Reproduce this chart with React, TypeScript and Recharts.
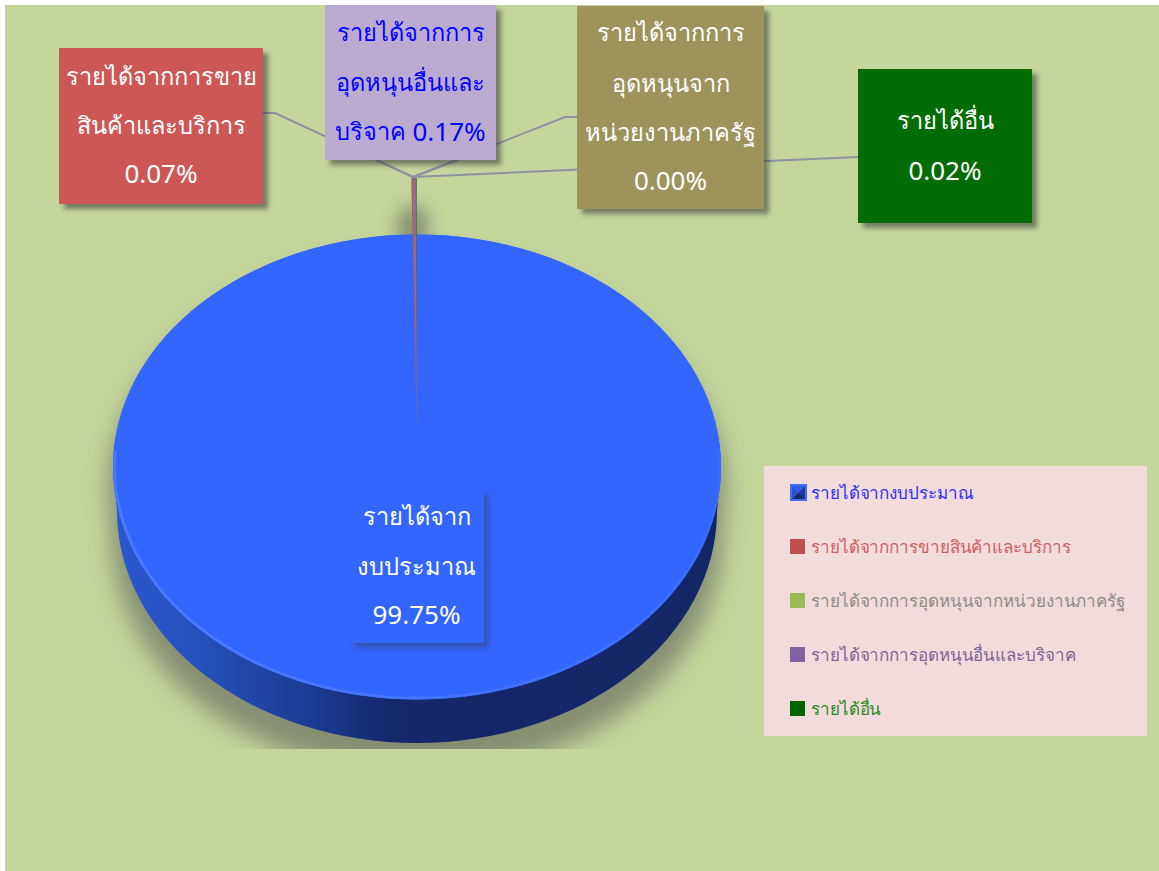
import React from "react";
import { PieChart, Pie, Legend } from "recharts";

// ---- data ----
const categories = [
  "รายได้จากงบประมาณ",
  "รายได้จากการขายสินค้าและบริการ",
  "รายได้จากการอุดหนุนจากหน่วยงานภาครัฐ",
  "รายได้จากการอุดหนุนอื่นและบริจาค",
  "รายได้อื่น",
];
const percentValues = [99.75, 0.07, 0.0, 0.17, 0.02];
const sliceColors = ["#3366FF", "#C0504D", "#9BBB59", "#8064A2", "#006400"];
const legendTextColors = ["#3030F0", "#D0605E", "#8C8C8C", "#7E6496", "#2A8A2A"];
const labelTextLines = [
  ["รายได้จาก", "งบประมาณ"],
  ["รายได้จากการขาย", "สินค้าและบริการ"],
  ["รายได้จากการ", "อุดหนุนจาก", "หน่วยงานภาครัฐ"],
  ["รายได้จากการ", "อุดหนุนอื่นและ", "บริจาค"],
  ["รายได้อื่น"],
];

// ---- layout and style (not data) ----
const W = 1159;
const H = 871;
const FONT = "'Noto Sans', 'DejaVu Sans', sans-serif";
const PIE_CX = 417;
const PIE_CY = 467;
const PIE_RX = 304;
const TILT = 232.5 / 304;
const WALL = 44;
const WALL_RX = 300;
const WALL_RY = 232;
const CLIP_BOTTOM = 749;
const SLIVER_LIFT = 22;
const SLIVER_RY = 267;
const SLIVER_WIDEN = 1.15;
const THAI_SIZE = 23.6;
const NUMBER_SIZE = 26;

const labelBoxes = [
  { x: 349, y: 490, w: 135, h: 153, fill: "#3366FF", text: "#FFFFFF", ys: [516, 566, 614], shadow: 0.35 },
  { x: 59, y: 48, w: 204, h: 156, fill: "#CD5755", text: "#FFFFFF", ys: [76, 125, 173], shadow: 0.55 },
  { x: 577, y: 6, w: 187, h: 203, fill: "#9C945C", text: "#FFFFFF", ys: [32, 83, 132, 180], shadow: 0.55 },
  { x: 325, y: 5, w: 171, h: 155, fill: "#BCABD1", text: "#0000FF", ys: [32, 82, 131], shadow: 0.55 },
  { x: 858, y: 69, w: 174, h: 154, fill: "#046C04", text: "#FFFFFF", ys: [120, 170], shadow: 0.55 },
];
const APEX = "413,177";
const leaderPaths = [
  null,
  `263,113 275,113 ${APEX}`,
  `577,117 565,117 ${APEX}`,
  `376,160 ${APEX} 458,160`,
  `858,157 ${APEX}`,
];

const pt = (cx: number, cy: number, rx: number, ry: number, deg: number) => {
  const a = (deg * Math.PI) / 180;
  return [cx + rx * Math.cos(a), cy - ry * Math.sin(a)];
};

const ellipticalSector = (cx: number, cy: number, rx: number, ry: number, start: number, end: number) => {
  const [x0, y0] = pt(cx, cy, rx, ry, start);
  const [x1, y1] = pt(cx, cy, rx, ry, end);
  const large = Math.abs(start - end) > 180 ? 1 : 0;
  return `M${cx},${cy} L${x0},${y0} A${rx},${ry} 0 ${large} 1 ${x1},${y1} Z`;
};

const SliceShape = (props: any) => {
  const { cx, cy, outerRadius, startAngle, endAngle, fill, index } = props;
  const rx = outerRadius;
  const ry = outerRadius * TILT;
  const big = Math.abs(startAngle - endAngle) > 90;
  if (!big) {
    const gid = `sliverFade${index}`;
    const color = index === 3 ? "#86708F" : fill;
    return (
      <g>
        <defs>
          <linearGradient id={gid} gradientUnits="userSpaceOnUse" x1={0} x2={0} y1={360} y2={cy - SLIVER_LIFT}>
            <stop offset="0" stopColor={color} stopOpacity={1} />
            <stop offset="0.6" stopColor={color} stopOpacity={0.75} />
            <stop offset="1" stopColor={color} stopOpacity={0} />
          </linearGradient>
        </defs>
        <path
          d={ellipticalSector(cx, cy - SLIVER_LIFT, rx * SLIVER_WIDEN, SLIVER_RY, startAngle, endAngle)}
          fill={`url(#${gid})`}
        />
      </g>
    );
  }
  const wall = `M${cx - rx},${cy} L${cx - WALL_RX},${cy + WALL} A${WALL_RX},${WALL_RY} 0 0 0 ${cx + WALL_RX},${cy + WALL} L${cx + rx},${cy} Z`;
  const silhouette = `M${cx - rx},${cy} A${rx},${ry} 0 0 1 ${cx + rx},${cy} L${cx + WALL_RX},${cy + WALL} A${WALL_RX},${WALL_RY} 0 0 1 ${cx - WALL_RX},${cy + WALL} Z`;
  const [rimX0, rimY0] = pt(cx, cy, rx - 1.5, ry - 1.5, 176);
  const [rimX1, rimY1] = pt(cx, cy, rx - 1.5, ry - 1.5, 4);
  return (
    <g>
      <defs>
        <linearGradient id="wallGrad" gradientUnits="userSpaceOnUse" x1={cx - rx} x2={cx + rx} y1={0} y2={0}>
          <stop offset="0" stopColor="#2B58D0" />
          <stop offset="0.14" stopColor="#2650BC" />
          <stop offset="0.32" stopColor="#1C3C94" />
          <stop offset="0.46" stopColor="#14286A" />
          <stop offset="1" stopColor="#132766" />
        </linearGradient>
        <linearGradient id="rimGrad" gradientUnits="userSpaceOnUse" x1={cx - rx} x2={cx + rx} y1={0} y2={0}>
          <stop offset="0" stopColor="#4A7CFF" />
          <stop offset="0.5" stopColor="#4675FF" />
          <stop offset="1" stopColor="#3A6BFF" />
        </linearGradient>
        <filter id="pieBlur" x="-20%" y="-20%" width="140%" height="140%">
          <feGaussianBlur stdDeviation="12" />
        </filter>
        <filter id="spotBlur" x="-100%" y="-100%" width="300%" height="300%">
          <feGaussianBlur stdDeviation="9" />
        </filter>
        <filter id="rimBlur" x="-5%" y="-5%" width="110%" height="110%">
          <feGaussianBlur stdDeviation="0.6" />
        </filter>
        <clipPath id="shadowClip">
          <rect x={0} y={0} width={W} height={CLIP_BOTTOM} />
        </clipPath>
      </defs>
      <g clipPath="url(#shadowClip)">
        <path d={silhouette} transform="translate(0,26)" fill="#4A4A4A" stroke="#4A4A4A" strokeWidth={10} opacity={0.5} filter="url(#pieBlur)" />
      </g>
      <ellipse cx={cx - 4} cy={cy - ry - 8} rx={16} ry={22} fill="#3A3A3A" opacity={0.45} filter="url(#spotBlur)" />
      <path d={wall} fill="url(#wallGrad)" />
      <ellipse cx={cx} cy={cy} rx={rx} ry={ry} fill={fill} />
      <path d={ellipticalSector(cx, cy, rx, ry, startAngle, endAngle)} fill={fill} />
      <path
        d={`M${rimX0},${rimY0} A${rx - 1.5},${ry - 1.5} 0 1 0 ${rimX1},${rimY1}`}
        fill="none"
        stroke="url(#rimGrad)"
        strokeWidth={2.5}
        filter="url(#rimBlur)"
      />
    </g>
  );
};

const EmptyShape = () => <g />;

const LeaderLine = (props: any) => {
  const pts = leaderPaths[props.index];
  if (!pts) return <g />;
  return <polyline points={pts} fill="none" stroke="#8F90A0" strokeWidth={2} />;
};

const BoxLabel = (props: any) => {
  const { index } = props;
  const box = labelBoxes[index];
  const pct = `${percentValues[index].toFixed(2)}%`;
  const lines = labelTextLines[index];
  const inlinePct = index === 3;
  const rows = inlinePct ? lines.length : lines.length + 1;
  const mid = box.x + box.w / 2;
  return (
    <g>
      <defs>
        <filter id={`boxBlur${index}`} x="-10%" y="-10%" width="120%" height="120%">
          <feGaussianBlur stdDeviation="2.5" />
        </filter>
      </defs>
      <rect x={box.x + 5} y={box.y + 5} width={box.w} height={box.h} fill="#303030" opacity={box.shadow} filter={`url(#boxBlur${index})`} />
      <rect x={box.x} y={box.y} width={box.w} height={box.h} fill={box.fill} />
      {Array.from({ length: rows }, (_, i) => {
        const thai = lines[i];
        const last = i === rows - 1;
        return (
          <text key={i} x={mid} y={box.ys[i]} textAnchor="middle" dominantBaseline="central" fill={box.text} fontFamily={FONT} fontSize={THAI_SIZE}>
            {thai}
            {inlinePct && last ? " " : ""}
            {last ? <tspan fontSize={NUMBER_SIZE}>{pct}</tspan> : null}
          </text>
        );
      })}
    </g>
  );
};

const BudgetMarker = () => (
  <svg width={17} height={17} style={{ display: "block" }}>
    <rect width={17} height={17} fill="#3F6FF0" />
    <polygon points="2,2 15,2 8.5,8.5" fill="#2F5FE8" />
    <polygon points="2,2 2,15 8.5,8.5" fill="#2A50C8" />
    <polygon points="15,2 15,15 8.5,8.5" fill="#1B3A96" />
    <polygon points="2,15 15,15 8.5,8.5" fill="#14286C" />
  </svg>
);

const LegendContent = () => (
  <div style={{ width: 383, height: 270, background: "#F2DCDB", position: "relative", fontFamily: FONT, fontSize: 17, letterSpacing: -0.1 }}>
    {categories.map((name, i) => (
      <div key={name} style={{ position: "absolute", left: 26, top: 18 + i * 54, height: 17, display: "flex", alignItems: "center", whiteSpace: "nowrap" }}>
        <div style={{ width: 17, height: 17, marginRight: 4 }}>
          {i === 0 ? <BudgetMarker /> : <div style={{ width: 15, height: 15, marginTop: 1, background: sliceColors[i] }} />}
        </div>
        <span style={{ color: legendTextColors[i] }}>{name}</span>
      </div>
    ))}
  </div>
);

const tableData = categories.map((name, i) => ({ name, value: percentValues[i], fill: sliceColors[i] }));

export default function App() {
  return (
    <div style={{ position: "absolute", left: 0, top: 0, width: W, height: H, background: "#FFFFFF", overflow: "hidden" }}>
      <div style={{ position: "absolute", left: 5, top: 5, width: W - 5, height: H - 5, background: "#C4D69C", borderLeft: "1px solid #C8C8C8", boxSizing: "border-box" }} />
      <div style={{ position: "absolute", left: 0, top: 0 }}>
        <PieChart width={W} height={H} margin={{ top: 0, right: 0, bottom: 0, left: 0 }}>
          <Pie
            data={tableData}
            dataKey="value"
            nameKey="name"
            cx={PIE_CX}
            cy={PIE_CY}
            outerRadius={PIE_RX}
            startAngle={90}
            endAngle={-270}
            stroke="none"
            isAnimationActive={false}
            shape={SliceShape}
            label={() => <g />}
            labelLine={LeaderLine}
          />
          <Pie
            data={tableData}
            dataKey="value"
            nameKey="name"
            cx={PIE_CX}
            cy={PIE_CY}
            outerRadius={PIE_RX}
            startAngle={90}
            endAngle={-270}
            stroke="none"
            legendType="none"
            isAnimationActive={false}
            shape={EmptyShape}
            label={BoxLabel}
            labelLine={false}
          />
          <Legend
            layout="vertical"
            content={<LegendContent />}
            wrapperStyle={{ position: "absolute", left: 764, top: 466, width: 383, height: 270 }}
          />
        </PieChart>
      </div>
    </div>
  );
}
